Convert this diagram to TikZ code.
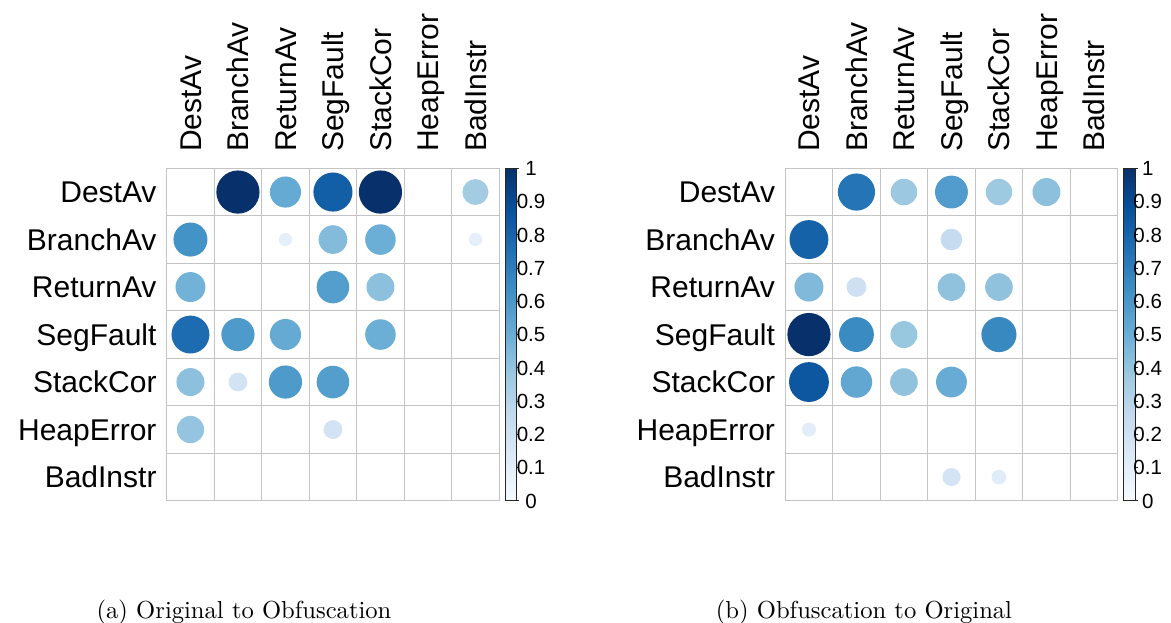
\documentclass[tikz,border=0pt]{standalone}
\usepackage{fontspec}
\newfontfamily\arialf{Liberation Sans}
\definecolor{b0}{HTML}{F7FBFF}
\definecolor{b1}{HTML}{DEEBF7}
\definecolor{b2}{HTML}{C6DBEF}
\definecolor{b3}{HTML}{9ECAE1}
\definecolor{b4}{HTML}{6BAED6}
\definecolor{b5}{HTML}{4292C6}
\definecolor{b6}{HTML}{2171B5}
\definecolor{b7}{HTML}{08519C}
\definecolor{b8}{HTML}{08306B}
\definecolor{gridc}{HTML}{C4C4C4}
\pgfdeclareverticalshading{bluesbar}{100bp}{color(0bp)=(b0); color(25bp)=(b0); color(31.25bp)=(b1); color(37.5bp)=(b2); color(43.75bp)=(b3); color(50bp)=(b4); color(56.25bp)=(b5); color(62.5bp)=(b6); color(68.75bp)=(b7); color(75bp)=(b8); color(100bp)=(b8)}
\newcommand\cellw{47.5}
\newcommand\gtop{168.3}
\newcommand\bub[4]{%
  \pgfmathsetmacro\myseg{min(7,floor(#4*8))}%
  \pgfmathtruncatemacro\mysi{\myseg}%
  \pgfmathtruncatemacro\mysj{\myseg+1}%
  \pgfmathsetmacro\mypp{(#4*8-\mysi)*100}%
  \edef\mytmp{\noexpand\colorlet{bubc}{b\mysj!\mypp!b\mysi}}\mytmp
  \fill[bubc] ({#1+(#2-0.5)*\cellw},{\gtop+(#3-0.5)*\cellw}) circle[radius={21.6*sqrt(#4)}];
}
\newcommand\corrpanel[4]{%
  % grid
  \foreach \i in {0,...,7} {
    \draw[gridline] ({#1+\i*\cellw},\gtop) -- ({#1+\i*\cellw},{\gtop+7*\cellw});
    \draw[gridline] (#1,{\gtop+\i*\cellw}) -- ({#1+7*\cellw},{\gtop+\i*\cellw});
  }
  % labels
  \foreach \nm [count=\k] in {DestAv,BranchAv,ReturnAv,SegFault,StackCor,HeapError,BadInstr} {
    \node[lab, anchor=base east] (#2r\k) at ({#1-10},{\gtop+(\k-0.5)*\cellw+10.7}) {\nm};
    \node[lab, anchor=base west, rotate=90] (#2c\k) at ({#1+(\k-0.5)*\cellw+10.7},152) {\nm};
  }
  % bubbles
  \foreach \cc/\rr/\vv in {#4} { \bub{#1}{\cc}{\rr}{\vv} }
  % colour bar
  \shade[shading=bluesbar] ({#1+338.3},\gtop) rectangle ({#1+350.1},{\gtop+7*\cellw});
  \draw[barline] ({#1+338.3},\gtop) rectangle ({#1+350.1},{\gtop+7*\cellw});
  \foreach \t [count=\q from 0] in {0,0.1,0.2,0.3,0.4,0.5,0.6,0.7,0.8,0.9,1} {
    \draw[barline] ({#1+350.1},{\gtop+7*\cellw-\q*33.25}) -- ++(2.5,0);
    \node[tick, anchor=base] (#2t\q) at ({#1+#3},{\gtop+7*\cellw-\q*33.25+7.3}) {\t};
  }
}
\begin{document}
\begin{tikzpicture}[x=1pt,y=-1pt,
  lab/.style={font=\arialf\fontsize{30}{36}\selectfont, inner sep=0pt},
  tick/.style={font=\arialf\fontsize{20.5}{24}\selectfont, inner sep=0pt},
  capt/.style={font=\rmfamily, scale=2.46, transform shape, inner sep=0pt, anchor=base},
  gridline/.style={draw=gridc, line width=1pt},
  barline/.style={draw=black!85, line width=0.9pt}]
\useasboundingbox (0,0) rectangle (1171,623);
\corrpanel{166.7}{a}{364.3}{2/1/1.0, 3/1/0.52, 4/1/0.82, 5/1/1.0, 7/1/0.36,
  1/2/0.62, 3/2/0.095, 4/2/0.44, 5/2/0.50, 7/2/0.095,
  1/3/0.48, 4/3/0.57, 5/3/0.42,
  1/4/0.77, 2/4/0.59, 3/4/0.52, 5/4/0.50,
  1/5/0.42, 2/5/0.19, 3/5/0.59, 4/5/0.57,
  1/6/0.40, 4/6/0.19}
\corrpanel{785.2}{b}{362.5}{2/1/0.74, 3/1/0.38, 4/1/0.58, 5/1/0.375, 6/1/0.42,
  1/2/0.81, 4/2/0.25,
  1/3/0.45, 2/3/0.21, 4/3/0.41, 5/3/0.41,
  1/4/1.0, 2/4/0.65, 3/4/0.39, 5/4/0.66,
  1/5/0.85, 2/5/0.53, 3/5/0.41, 4/5/0.51,
  1/6/0.106,
  4/7/0.175, 5/7/0.116}
\node[capt] (capa) at (244,618) {(a) Original to Obfuscation};
\node[capt] (capb) at (864,618) {(b) Obfuscation to Original};
\end{tikzpicture}
\end{document}
